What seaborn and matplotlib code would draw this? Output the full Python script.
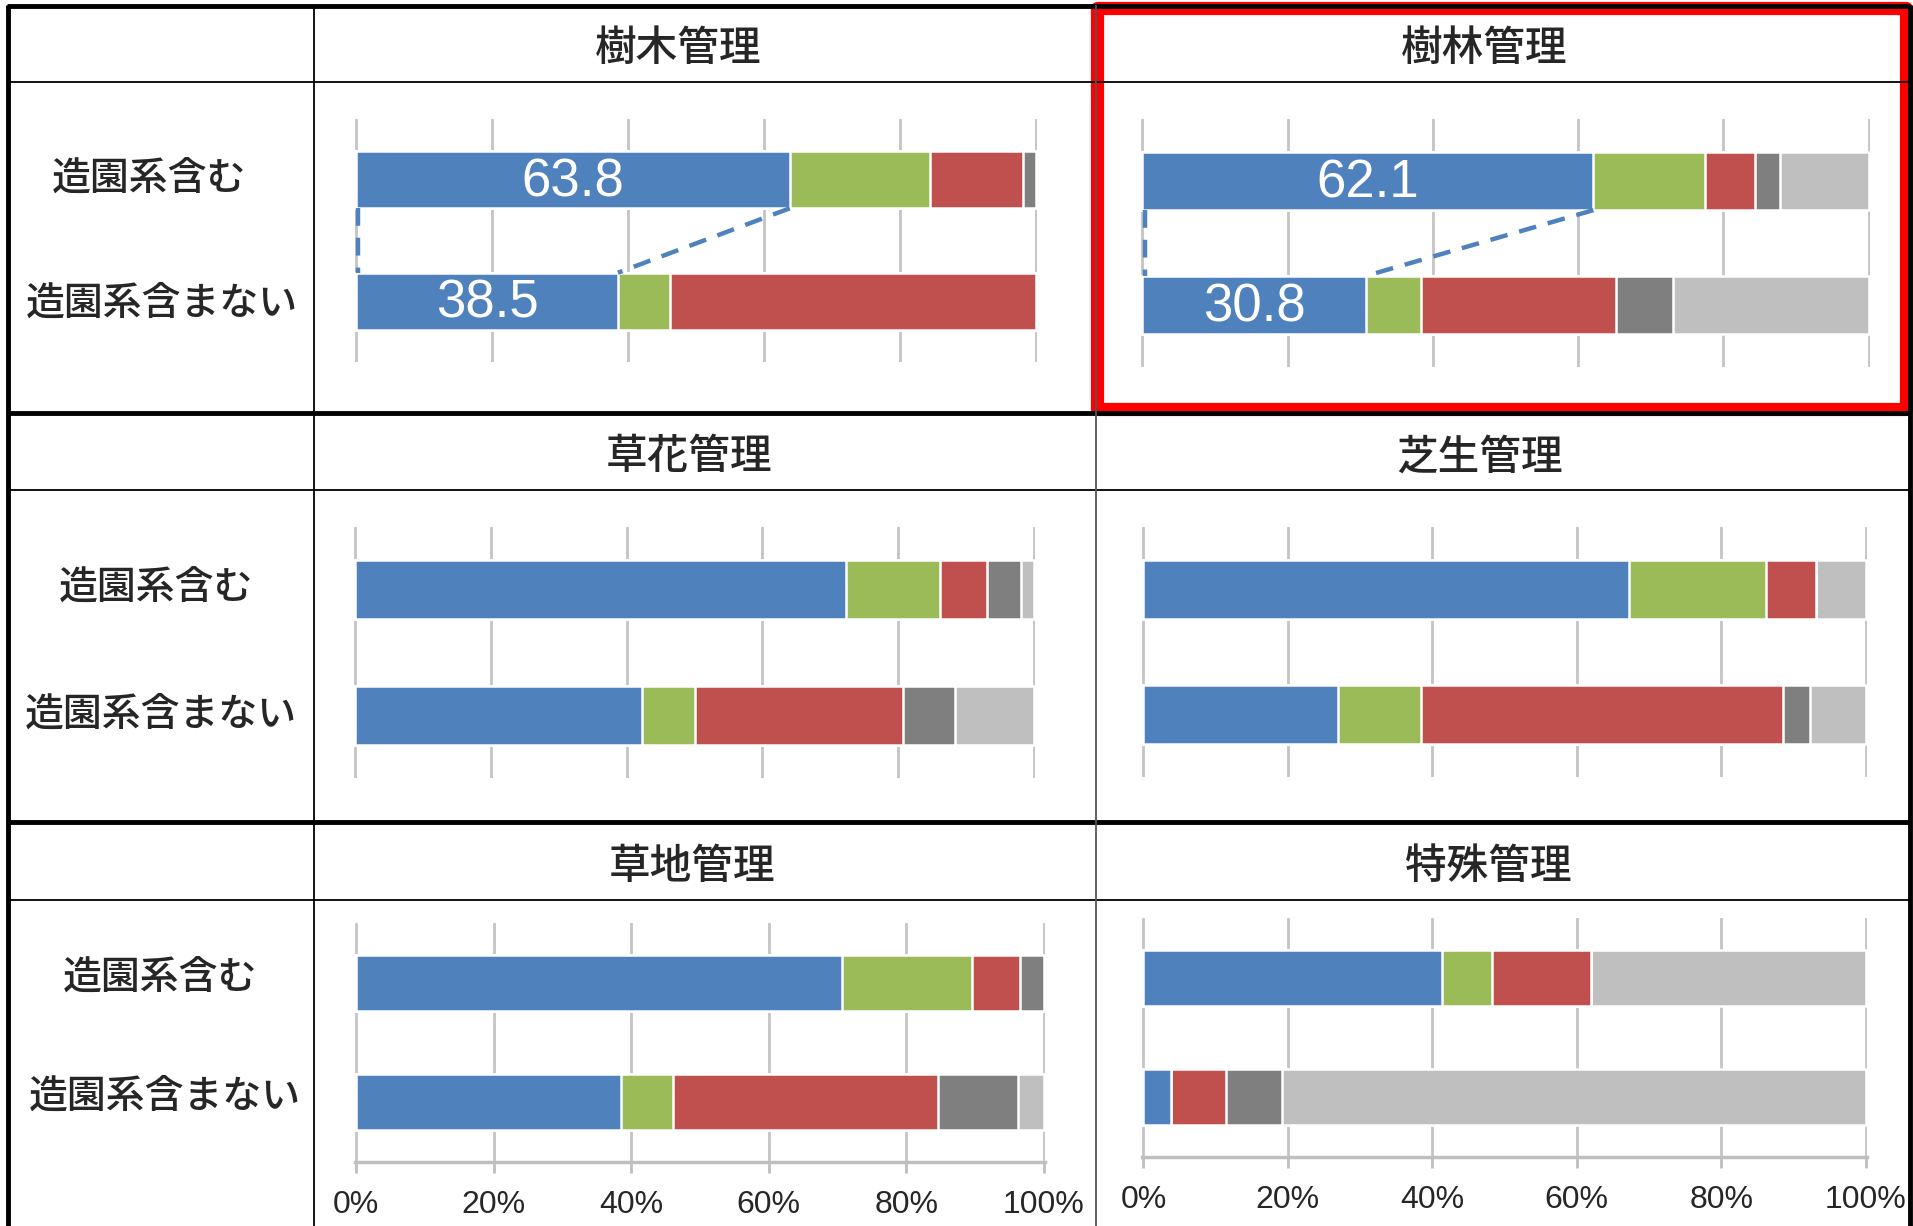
import matplotlib
matplotlib.use("Agg")
import matplotlib.pyplot as plt
from matplotlib.patches import Rectangle
import numpy as np
import seaborn as sns

# 区分ごとの値 (%)
panels = ['樹木管理', '樹林管理', '草花管理', '芝生管理', '草地管理', '特殊管理']
rows = ['造園系含む', '造園系含まない']
seg_blue = [[63.8, 38.5], [62.1, 30.8], [72.4, 42.3], [67.2, 26.9], [70.6, 38.5], [41.3, 3.8]]
seg_green = [[20.7, 7.6], [15.4, 7.6], [13.8, 7.7], [19.0, 11.6], [19.0, 7.6], [6.9, 0.0]]
seg_red = [[13.7, 53.9], [6.9, 26.8], [6.9, 30.8], [6.9, 50.0], [7.0, 38.6], [13.8, 7.7]]
seg_dgray = [[1.8, 0.0], [3.4, 7.8], [5.1, 7.6], [0.0, 3.8], [3.4, 11.5], [0.0, 7.7]]
seg_lgray = [[0.0, 0.0], [12.2, 27.0], [1.8, 11.6], [6.9, 7.7], [0.0, 3.8], [38.0, 80.8]]
labeled = ['樹木管理', '樹林管理']
xticks = [0, 20, 40, 60, 80, 100]
xtick_labels = ['0%', '20%', '40%', '60%', '80%', '100%']

colors = ['#4F81BD', '#9BBB59', '#C0504D', '#7F7F7F', '#BFBFBF']

sns.set_style("white")
plt.rcParams['font.family'] = ['Noto Sans CJK JP', 'DejaVu Sans']
num_font = ['Liberation Sans Narrow', 'Liberation Sans', 'DejaVu Sans']

W, H = 1913, 1226
fig = plt.figure(figsize=(W / 100, H / 100), dpi=100)


def px_rect(x0, y0, x1, y1):
    return [x0 / W, 1 - y1 / H, (x1 - x0) / W, (y1 - y0) / H]


# 各パネルの位置 (ピクセル)
boxes = [(355, 119, 1037, 362), (1141, 119, 1870, 367),
         (354, 527, 1035, 778), (1142, 527, 1867, 777),
         (355, 923, 1045, 1162), (1142, 918, 1867, 1157)]
header_pos = [(678, 49), (1484, 49), (689, 457), (1479, 457), (692, 866), (1488, 866)]
label_x = [(149, 162), (156, 161), (160, 165)]

bar_h = 0.47
for i, name in enumerate(panels):
    ax = fig.add_axes(px_rect(*boxes[i]))
    segs = np.array([seg_blue[i], seg_green[i], seg_red[i], seg_dgray[i], seg_lgray[i]])
    cum = np.cumsum(segs, axis=0)
    # 右側の累積から順に重ねて描く
    for k in range(4, -1, -1):
        sns.barplot(x=cum[k], y=rows, orient='h', color=colors[k], width=bar_h,
                    edgecolor='white', linewidth=1.8, saturation=1, errorbar=None, ax=ax)
    ax.set_xlim(-0.2, 100.2)
    ax.set_ylim(1.5, -0.5)
    ax.set_xticks(xticks)
    ax.set_yticks([])
    ax.set_xlabel('')
    ax.set_ylabel('')
    ax.grid(axis='x', color='#C4C4C4', linewidth=2)
    ax.set_axisbelow(True)
    for s in ax.spines.values():
        s.set_visible(False)
    if i >= 4:
        ax.spines['bottom'].set_visible(True)
        ax.spines['bottom'].set_color('#BFBFBF')
        ax.spines['bottom'].set_linewidth(2.5)
        ax.tick_params(axis='x', bottom=True, length=8, width=2, color='#BFBFBF', pad=12)
        ax.set_xticklabels(xtick_labels, fontsize=23, family=num_font)
    else:
        ax.tick_params(axis='x', bottom=False, labelbottom=False)
    if name in labeled:
        blue = seg_blue[i]
        ax.plot([blue[0], blue[1]], [bar_h / 2, 1 - bar_h / 2], ls=(0, (4, 2.7)),
                color=colors[0], lw=3.2)
        ax.plot([0.3, 0.3], [bar_h / 2, 1 - bar_h / 2], ls=(0, (4, 2.7)),
                color=colors[0], lw=3.2)
        for r in range(2):
            ax.text(blue[r] / 2, r + 0.02, f'{blue[r]:.1f}', color='white', ha='center',
                    va='center', fontsize=38, family=num_font)

    hx, hy = header_pos[i]
    fig.text(hx / W, 1 - hy / H, name, ha='center', va='center', fontsize=30,
             fontweight='medium')
    if i % 2 == 0:
        row = i // 2
        (y0, y1) = [(179, 304), (588, 715), (978, 1097)][row]
        lx0, lx1 = label_x[row]
        fig.text(lx0 / W, 1 - y0 / H, rows[0], ha='center', va='center', fontsize=28,
                 fontweight='medium')
        fig.text(lx1 / W, 1 - y1 / H, rows[1], ha='center', va='center', fontsize=28,
                 fontweight='medium')

# 表の罫線
ov = fig.add_axes([0, 0, 1, 1])
ov.set_xlim(0, W)
ov.set_ylim(H, 0)
ov.axis('off')
ov.patch.set_visible(False)
for y, lw in [(6, 3.5), (82, 1.3), (413, 3.5), (490, 1.3), (822, 3.5), (900, 1.3)]:
    ov.plot([7, 1910], [y, y], color='black', lw=lw, solid_capstyle='butt')
for x, lw, c in [(7.5, 3.5, 'black'), (314, 1.3, 'black'), (1096, 1.3, '#555555'), (1910, 3.5, 'black')]:
    ov.plot([x, x], [5, H], color=c, lw=lw, solid_capstyle='butt')
ov.add_patch(Rectangle((1097, 8), 809, 401, fill=False, edgecolor='#FF0000', lw=9.5,
                       joinstyle='round'))

fig.savefig('out.png', dpi=100, facecolor='white')
